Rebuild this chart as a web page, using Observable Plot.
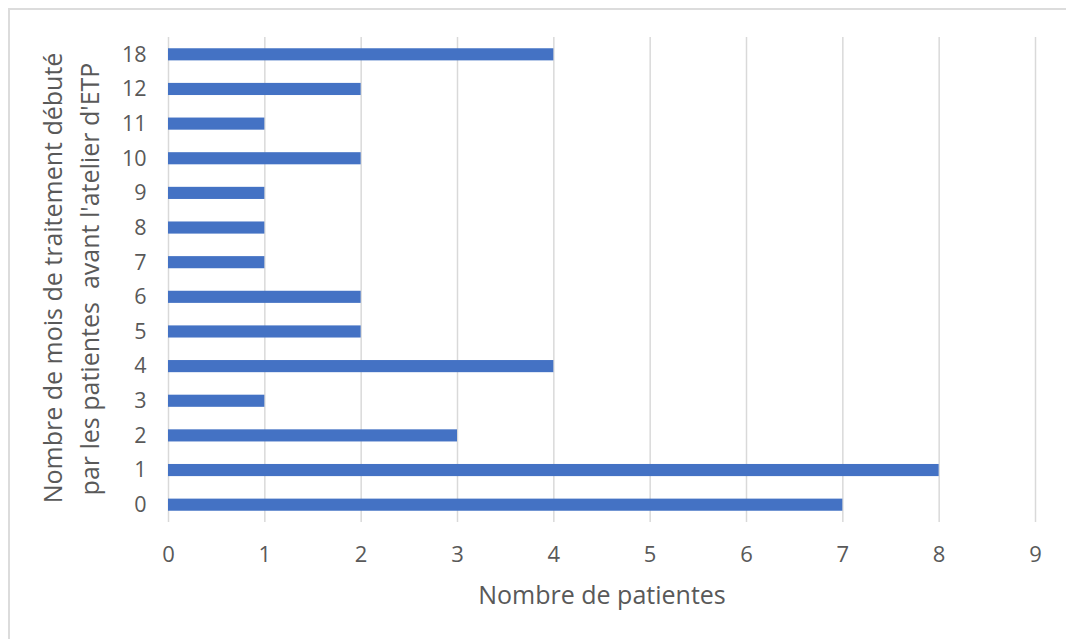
<!DOCTYPE html>
<html>
<head>
<meta charset="utf-8">
<script src="https://cdn.jsdelivr.net/npm/d3@7"></script>
<script src="https://cdn.jsdelivr.net/npm/@observablehq/plot@0.6"></script>
<style>
  html, body { margin: 0; padding: 0; background: #fff; overflow: hidden; }
  #wrap { position: relative; width: 1066px; height: 639px; }
  #frame { position: absolute; left: 8px; top: 8px; width: 1200px; height: 800px;
           border-top: 2px solid #dcdcdc; border-left: 2px solid #dcdcdc; box-sizing: border-box; }
  #chart { position: absolute; left: 0; top: 0; }
</style>
</head>
<body>
<div id="wrap"><div id="frame"></div><div id="chart"></div></div>
<script>
// Categories (months of treatment before the ETP workshop), bottom to top
const months = ["0", "1", "2", "3", "4", "5", "6", "7", "8", "9", "10", "11", "12", "18"];
// Number of patients per category
const patients = [7, 8, 3, 1, 4, 2, 2, 1, 1, 1, 2, 1, 2, 4];
// X axis tick labels
const xTicks = [0, 1, 2, 3, 4, 5, 6, 7, 8, 9];
const xTitle = "Nombre de patientes";
const yTitle1 = "Nombre de mois de traitement débuté";
const yTitle2 = "par les patientes  avant l'atelier d'ETP";

const data = months.map((m, i) => ({month: m, value: patients[i]}));
const grey = "#595959";
const font = "'Open Sans', sans-serif";

const chart = Plot.plot({
  width: 1066,
  height: 639,
  marginLeft: 168,
  marginRight: 31,
  marginTop: 37,
  marginBottom: 117,
  style: {fontFamily: font, background: "transparent"},
  x: {domain: [0, 9]},
  y: {domain: months.slice().reverse(), paddingInner: 0.65, paddingOuter: 0.325, round: false},
  marks: [
    Plot.gridX(xTicks, {stroke: "#d9d9d9", strokeOpacity: 1, strokeWidth: 1.5}),
    Plot.barX(data, {x: "value", y: "month", fill: "#4472C4"}),
    Plot.axisX(xTicks, {tickSize: 0, tickPadding: 24, fontSize: 22, fill: grey, label: null, tickFormat: d => String(d)}),
    Plot.axisY({tickSize: 0, tickPadding: 22, fontSize: 21.5, fill: grey, label: null}),
    Plot.text([xTitle], {text: d => d, frameAnchor: "bottom", textAnchor: "middle", lineAnchor: "bottom", dy: 81, fontSize: 25, fill: grey}),
    Plot.text([yTitle1], {text: d => d, frameAnchor: "left", textAnchor: "middle", lineAnchor: "bottom", rotate: -90, dx: -107, dy: -2, fontSize: 25, fill: grey}),
    Plot.text([yTitle2], {text: d => d, frameAnchor: "left", textAnchor: "middle", lineAnchor: "bottom", rotate: -90, dx: -70, dy: -1, fontSize: 25, fill: grey})
  ]
});
document.getElementById("chart").appendChild(chart);
</script>
</body>
</html>
